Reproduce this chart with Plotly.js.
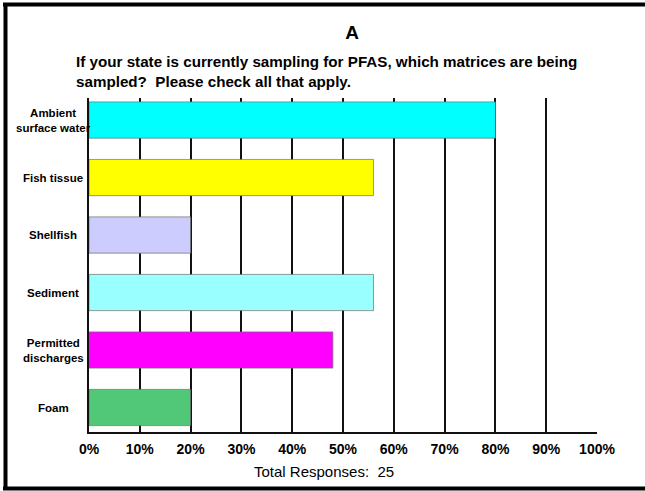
<!DOCTYPE html>
<html>
<head>
<meta charset="utf-8">
<script src="https://cdn.plot.ly/plotly-3.0.1.min.js"></script>
<style>html,body{margin:0;padding:0;background:#fff;}#chart{width:645px;height:491px;}</style>
</head>
<body>
<div id="chart"></div>
<script>
const categories = ["Ambient<br>surface water", "Fish tissue", "Shellfish", "Sediment", "Permitted<br>discharges", "Foam"];
const percentValues = [80, 56, 20, 56, 48, 20];
const tickValues = [0, 10, 20, 30, 40, 50, 60, 70, 80, 90, 100];
const tickLabels = ["0%", "10%", "20%", "30%", "40%", "50%", "60%", "70%", "80%", "90%", "100%"];
const titleText = "A";
const subtitleText = "If your state is currently sampling for PFAS, which matrices are being<br>sampled?  Please check all that apply.";
const footerText = "Total Responses:  25";

const barColors = ["#00FFFF", "#FFFF00", "#CCCCFF", "#99FFFF", "#FF00FF", "#50C878"];
const FONT = "Arial, 'Liberation Sans', sans-serif";

const W = 645, H = 491, L = 89, R = 48, T = 98, B = 59;
const pw = W - L - R, ph = H - T - B;
const px = x => (x - L) / pw;
const py = y => (H - B - y) / ph;

const idx = categories.map((c, i) => i);

const trace = {
  type: "bar",
  orientation: "h",
  x: percentValues,
  y: idx,
  width: 0.63,
  marker: {color: barColors, line: {color: "rgba(110,110,110,0.7)", width: 1}},
  hoverinfo: "x+text",
  text: categories,
  textposition: "none"
};

const annotations = categories.map((c, i) => ({
  xref: "paper", yref: "y", x: px(53), y: i,
  xanchor: "center", yanchor: "middle", align: "center",
  text: "<b>" + c + "</b>", showarrow: false,
  font: {family: FONT, size: 11.5, color: "#000"}
}));
annotations.push({
  xref: "paper", yref: "paper", x: px(74), y: py(71),
  xanchor: "left", yanchor: "middle", align: "left",
  text: "<b>" + subtitleText + "</b>", showarrow: false,
  font: {family: FONT, size: 15.2, color: "#000"}
});
annotations.push({
  xref: "paper", yref: "paper", x: px(324), y: py(471),
  xanchor: "center", yanchor: "middle",
  text: footerText, showarrow: false,
  font: {family: FONT, size: 15, color: "#000"}
});

const borderLine = {color: "#000", width: 4};
const layout = {
  width: W, height: H,
  margin: {l: L, r: R, t: T, b: B, pad: 0},
  paper_bgcolor: "#fff", plot_bgcolor: "#fff",
  showlegend: false,
  title: {text: "<b>" + titleText + "</b>", x: 352 / W, xref: "container", xanchor: "center",
          y: 1 - 32 / H, yref: "container", yanchor: "middle",
          font: {family: FONT, size: 19, color: "#000"}},
  xaxis: {
    range: [0, 100], tickvals: tickValues, ticktext: tickLabels,
    showgrid: true, gridcolor: "#111", gridwidth: 2,
    zeroline: false, showline: true, linecolor: "#111", linewidth: 2,
    ticks: "", ticklabelstandoff: 3,
    tickfont: {family: FONT, size: 14, color: "#000", weight: "bold"},
    fixedrange: true
  },
  yaxis: {
    range: [5.426, -0.383], showticklabels: false, showgrid: false,
    zeroline: false, showline: true, linecolor: "#111", linewidth: 2,
    ticks: "", fixedrange: true
  },
  annotations: annotations,
  shapes: [
    {type: "line", xref: "paper", yref: "paper", x0: px(3), x1: px(645), y0: py(4.5), y1: py(4.5), line: borderLine},
    {type: "line", xref: "paper", yref: "paper", x0: px(5.5), x1: px(5.5), y0: py(3), y1: py(489), line: borderLine},
    {type: "line", xref: "paper", yref: "paper", x0: px(3), x1: px(645), y0: py(488.5), y1: py(488.5), line: borderLine}
  ]
};

Plotly.newPlot("chart", [trace], layout, {displayModeBar: false, staticPlot: true});
</script>
</body>
</html>
